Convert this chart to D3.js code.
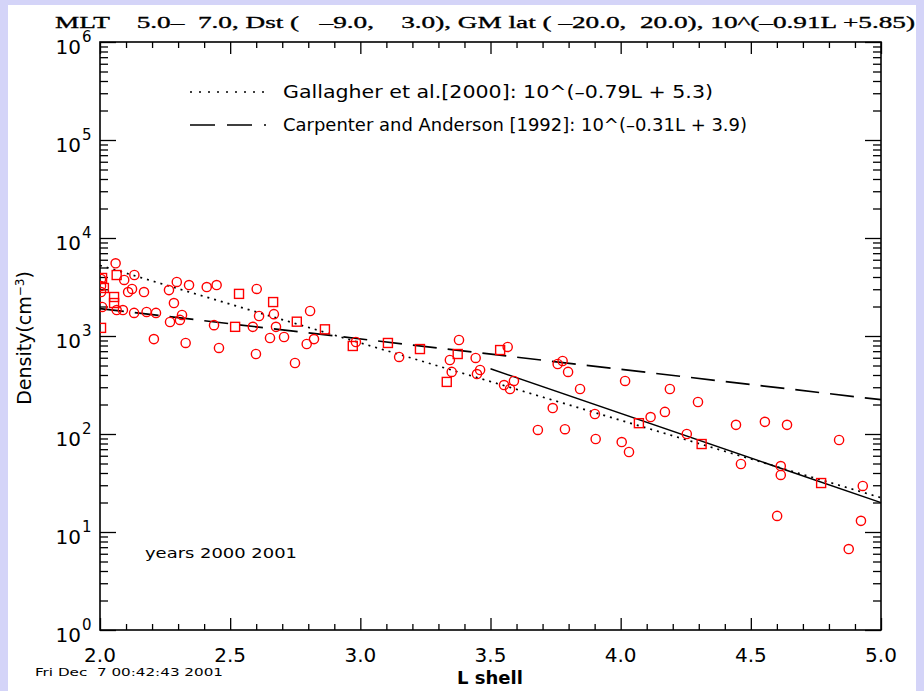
<!DOCTYPE html>
<html>
<head>
<meta charset="utf-8">
<script src="https://cdn.jsdelivr.net/npm/d3@7"></script>
<style>
  body { margin: 0; background: #d4d4f8; }
  svg { display: block; }
  text { font-family: "DejaVu Sans", "Liberation Sans", sans-serif; fill: #000; }
</style>
</head>
<body>
<svg id="chart" width="924" height="691"></svg>
<script>
// ---- data ----
const xTickValues = [2.0, 2.5, 3.0, 3.5, 4.0, 4.5, 5.0];
const xTickLabels = ["2.0", "2.5", "3.0", "3.5", "4.0", "4.5", "5.0"];
const yDecades = [0, 1, 2, 3, 4, 5, 6];

// measurements drawn with circle symbols: L shell and density (cm^-3)
const circleL = [2.060, 2.093, 2.132, 2.004, 2.004, 2.004, 2.008, 2.064, 2.088, 2.108,
  2.123, 2.169, 2.131, 2.179, 2.215, 2.265, 2.295, 2.342, 2.410, 2.448,
  2.284, 2.269, 2.307, 2.315, 2.207, 2.329, 2.457, 2.438, 2.602, 2.611,
  2.668, 2.807, 2.587, 2.676, 2.653, 2.707, 2.794, 2.822, 2.599, 2.749,
  2.983, 3.149, 3.379, 3.344, 3.443, 3.351, 3.460, 3.448, 3.566, 3.590,
  3.552, 3.575, 3.758, 3.777, 3.798, 3.844, 3.739, 3.682, 3.786, 3.901,
  4.017, 3.904, 4.004, 4.032, 4.189, 4.297, 4.170, 4.115, 4.254, 4.443,
  4.554, 4.639, 4.462, 4.615, 4.615, 4.839, 4.930, 4.601, 4.923, 4.876];
const circleDensity = [5520, 3730, 4190, 3820, 3240, 2810, 1980, 1840, 1840, 2810,
  3020, 2810, 1720, 1760, 1720, 2940, 3560, 3310, 3160, 3310,
  2170, 1390, 1460, 1640, 930, 849, 755, 1290, 3020, 1600,
  1670, 1800, 1240, 1240, 954, 977, 829, 930, 655, 530,
  869, 611, 910, 569, 597, 430, 450, 409, 773, 348,
  316, 288, 518, 556, 430, 288, 184, 110, 112, 160,
  348, 88.9, 82.8, 65.5, 288, 212, 168, 149, 100, 124,
  133, 124, 49.4, 47.1, 38.2, 86.9, 29.5, 14.6, 13.0, 6.7];

// measurements drawn with square symbols
const squareL = [2.064, 2.015, 2.008, 2.054, 2.054, 2.004, 2.519, 2.534, 2.665, 2.756,
  2.864, 2.971, 3.106, 3.229, 3.374, 3.332, 3.537, 4.070, 4.311, 4.770];
const squareDensity = [4190, 3090, 3910, 2500, 2170, 1210, 1240, 2690, 2220, 1400,
  1170, 791, 849, 736, 655, 340, 719, 129, 79, 31.6];

// empirical density models: log10(n) = slope * L + intercept
const modelNames = ["Gallagher et al.[2000]: 10^(\u20130.79L + 5.3)",
                    "Carpenter and Anderson [1992]: 10^(\u20130.31L + 3.9)",
                    "fit"];
const modelSlopes = [-0.79, -0.31, -0.91];
const modelIntercepts = [5.3, 3.9, 5.85];
const modelStartL = [2.0, 2.0, 3.5];
const modelEndL = [5.0, 5.0, 5.0];

const titleText = "MLT    5.0\u2013  7.0, Dst (   \u20139.0,    3.0), GM lat ( \u201320.0,  20.0), 10^(\u20130.91L +5.85)";

// ---- layout ----
const svg = d3.select("#chart");
const plot = { left: 100, right: 881, top: 42, bottom: 630 };

svg.append("rect").attr("x", 8).attr("y", 5).attr("width", 908).attr("height", 686)
  .attr("fill", "#fff");

const x = d3.scaleLinear().domain([2, 5]).range([plot.left, plot.right]);
const y = d3.scaleLog().domain([1, 1e6]).range([plot.bottom, plot.top]);

// ---- ticks ----
const xMinor = d3.range(20, 51).map(v => v / 10).filter(v => Math.abs(v * 2 - Math.round(v * 2)) > 1e-6);
const yMinor = [];
yDecades.slice(0, -1).forEach(e => { for (let m = 2; m <= 9; m++) yMinor.push(m * Math.pow(10, e)); });
const yMajor = yDecades.map(e => Math.pow(10, e));

function addAxis(gen, tx, ty) {
  const g = svg.append("g").attr("transform", `translate(${tx},${ty})`).call(gen);
  g.select(".domain").remove();
  g.selectAll(".tick line").attr("stroke", "#000").attr("stroke-width", 1.3);
  g.selectAll("text").remove();
}
const xMajLen = 12, xMinLen = 6, yMajLen = 16, yMinLen = 8;
addAxis(d3.axisBottom(x).tickValues(xTickValues).tickSize(-xMajLen), 0, plot.bottom);
addAxis(d3.axisBottom(x).tickValues(xMinor).tickSize(-xMinLen), 0, plot.bottom);
addAxis(d3.axisTop(x).tickValues(xTickValues).tickSize(-xMajLen), 0, plot.top);
addAxis(d3.axisTop(x).tickValues(xMinor).tickSize(-xMinLen), 0, plot.top);
addAxis(d3.axisLeft(y).tickValues(yMajor).tickSize(-yMajLen), plot.left, 0);
addAxis(d3.axisLeft(y).tickValues(yMinor).tickSize(-yMinLen), plot.left, 0);
addAxis(d3.axisRight(y).tickValues(yMajor).tickSize(-yMajLen), plot.right, 0);
addAxis(d3.axisRight(y).tickValues(yMinor).tickSize(-yMinLen), plot.right, 0);

// frame
svg.append("rect").attr("x", plot.left).attr("y", plot.top)
  .attr("width", plot.right - plot.left).attr("height", plot.bottom - plot.top)
  .attr("fill", "none").attr("stroke", "#000").attr("stroke-width", 1.6);

// ---- tick labels ----
svg.append("g").selectAll("text").data(xTickValues).join("text")
  .attr("x", d => x(d)).attr("y", plot.bottom + 32)
  .attr("text-anchor", "middle").attr("font-size", 20)
  .text((d, i) => xTickLabels[i]);

const yl = svg.append("g").selectAll("g").data(yDecades).join("g")
  .attr("transform", d => `translate(0,${y(Math.pow(10, d))})`);
yl.append("text").attr("x", 81).attr("y", 12).attr("text-anchor", "end")
  .attr("font-size", 20).text("10");
yl.append("text").attr("x", 82).attr("y", 0).attr("font-size", 15)
  .text(d => String(d));

// axis titles
svg.append("text").attr("transform", "translate(31,338) rotate(-90)")
  .attr("text-anchor", "middle").attr("font-size", 19)
  .html('Density(cm<tspan dy="-7" font-size="12">\u22123</tspan><tspan dy="7">)</tspan>');
svg.append("text").attr("x", 490).attr("y", 684).attr("text-anchor", "middle")
  .attr("font-size", 18).attr("font-weight", "bold").text("L shell");
svg.append("text").attr("x", 35).attr("y", 676).attr("font-size", 11)
  .attr("textLength", 188).attr("lengthAdjust", "spacingAndGlyphs")
  .style("white-space", "pre")
  .text("Fri Dec  7 00:42:43 2001");

// title
svg.append("text").attr("x", 55).attr("y", 28)
  .style("font-family", "'Liberation Serif', 'DejaVu Serif', serif")
  .style("font-size", "17px").style("stroke", "#000").style("stroke-width", "0.35px")
  .attr("textLength", 860).attr("lengthAdjust", "spacingAndGlyphs")
  .style("white-space", "pre").text(titleText);

// ---- model lines ----
const modelDash = ["2,5", "24,11", null];
const line = d3.line().x(d => x(d[0])).y(d => y(d[1]));
modelSlopes.forEach((s, i) => {
  const pts = [modelStartL[i], modelEndL[i]].map(L => [L, Math.pow(10, s * L + modelIntercepts[i])]);
  svg.append("path").attr("d", line(pts)).attr("fill", "none")
    .attr("stroke", "#000").attr("stroke-width", i === 2 ? 1.5 : 1.7)
    .attr("stroke-dasharray", modelDash[i]);
});

// ---- legend ----
const legendY = [92, 125];
[0, 1].forEach(i => {
  svg.append("line").attr("x1", 190).attr("x2", 266)
    .attr("y1", legendY[i]).attr("y2", legendY[i])
    .attr("stroke", "#000").attr("stroke-width", 1.7)
    .attr("stroke-dasharray", i === 0 ? "2,7" : "25,12");
  svg.append("text").attr("x", 283).attr("y", legendY[i] + 6)
    .attr("font-size", 18)
    .attr("textLength", i === 0 ? 430 : 464).attr("lengthAdjust", "spacingAndGlyphs")
    .text(modelNames[i]);
});

svg.append("text").attr("x", 145).attr("y", 558).attr("font-size", 14)
  .attr("textLength", 152).attr("lengthAdjust", "spacingAndGlyphs")
  .text("years 2000 2001");

// ---- measurements ----
svg.append("clipPath").attr("id", "plotclip").append("rect")
  .attr("x", plot.left).attr("y", plot.top)
  .attr("width", plot.right - plot.left).attr("height", plot.bottom - plot.top);
const pts = svg.append("g").attr("clip-path", "url(#plotclip)");
pts.selectAll("circle").data(circleL.map((L, i) => [L, circleDensity[i]])).join("circle")
  .attr("cx", d => x(d[0])).attr("cy", d => y(d[1])).attr("r", 4.6)
  .attr("fill", "none").attr("stroke", "#ff0000").attr("stroke-width", 1.4);
pts.selectAll("rect").data(squareL.map((L, i) => [L, squareDensity[i]])).join("rect")
  .attr("x", d => x(d[0]) - 4.5).attr("y", d => y(d[1]) - 4.5)
  .attr("width", 9).attr("height", 9)
  .attr("fill", "none").attr("stroke", "#ff0000").attr("stroke-width", 1.4);
</script>
</body>
</html>
